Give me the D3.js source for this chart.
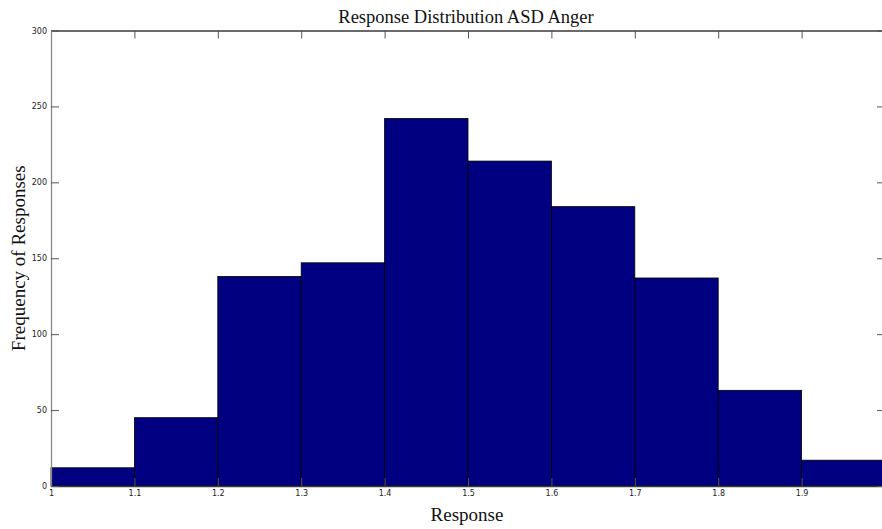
<!DOCTYPE html>
<html>
<head>
<meta charset="utf-8">
<script src="https://cdn.jsdelivr.net/npm/d3@7"></script>
<style>
  html, body { margin: 0; padding: 0; background: #fff; overflow: hidden; }
  svg { display: block; }
</style>
</head>
<body>
<script>
// Histogram bins (left edges) and counts per bin
const binStarts = [1.0, 1.1, 1.2, 1.3, 1.4, 1.5, 1.6, 1.7, 1.8, 1.9];
const binWidth = 0.1;
const counts = [12, 45, 138, 147, 242, 214, 184, 137, 63, 17];
const xTicks = [1, 1.1, 1.2, 1.3, 1.4, 1.5, 1.6, 1.7, 1.8, 1.9, 2];
const xTickLabels = ["1", "1.1", "1.2", "1.3", "1.4", "1.5", "1.6", "1.7", "1.8", "1.9", "2"];
const yTicks = [0, 50, 100, 150, 200, 250, 300];

const W = 882, H = 529;
const plotLeft = 51, plotRight = 885, plotTop = 30.5, plotBottom = 486;

const svg = d3.select("body").append("svg")
  .attr("width", W).attr("height", H);

const x = d3.scaleLinear().domain([1, 2]).range([plotLeft, plotRight]);
const y = d3.scaleLinear().domain([0, 300]).range([plotBottom, plotTop]);

// bars
svg.append("g").selectAll("rect")
  .data(binStarts.map((b, i) => ({ b, c: counts[i] })))
  .join("rect")
  .attr("x", d => x(d.b))
  .attr("y", d => y(d.c))
  .attr("width", d => x(d.b + binWidth) - x(d.b))
  .attr("height", d => y(0) - y(d.c))
  .attr("fill", "#000080")
  .attr("stroke", "#000")
  .attr("stroke-width", 0.8);

const tickLen = 8;

// bottom axis (ticks inward)
const bottomAxis = d3.axisBottom(x).tickValues(xTicks)
  .tickFormat((d, i) => xTickLabels[i])
  .tickSizeInner(-tickLen).tickSizeOuter(0).tickPadding(4);
const gb = svg.append("g").attr("transform", `translate(0,${plotBottom})`).call(bottomAxis);

// top axis (mirror ticks, no labels)
const topAxis = d3.axisTop(x).tickValues(xTicks).tickFormat("")
  .tickSizeInner(-tickLen).tickSizeOuter(0);
const gt = svg.append("g").attr("transform", `translate(0,${plotTop})`).call(topAxis);

// left axis
const leftAxis = d3.axisLeft(y).tickValues(yTicks)
  .tickSizeInner(-tickLen).tickSizeOuter(0).tickPadding(4);
const gl = svg.append("g").attr("transform", `translate(${plotLeft},0)`).call(leftAxis);

// right axis (mirror ticks)
const rightAxis = d3.axisRight(y).tickValues(yTicks).tickFormat("")
  .tickSizeInner(-tickLen).tickSizeOuter(0);
const gr = svg.append("g").attr("transform", `translate(${plotRight},0)`).call(rightAxis);

[gb, gt, gl, gr].forEach(g => {
  g.select(".domain").attr("stroke", "#3a3a3a").attr("stroke-width", 1.3);
  g.selectAll(".tick line").attr("stroke", "#555").attr("stroke-width", 1);
  g.selectAll(".tick text")
    .attr("fill", "#222")
    .style("font-family", "'DejaVu Sans', Arial, sans-serif")
    .style("font-size", "8px");
});
gl.select(".domain").attr("stroke", "#888");

// titles
svg.append("text")
  .attr("x", 466).attr("y", 23)
  .attr("text-anchor", "middle")
  .style("font-family", "'Liberation Serif', 'Times New Roman', serif")
  .style("font-size", "18.5px")
  .attr("fill", "#111")
  .text("Response Distribution ASD Anger");

svg.append("text")
  .attr("x", 467).attr("y", 521)
  .attr("text-anchor", "middle")
  .style("font-family", "'Liberation Serif', 'Times New Roman', serif")
  .style("font-size", "19px")
  .attr("fill", "#111")
  .text("Response");

svg.append("text")
  .attr("transform", `translate(25,${(plotTop + plotBottom) / 2}) rotate(-90)`)
  .attr("text-anchor", "middle")
  .style("font-family", "'Liberation Serif', 'Times New Roman', serif")
  .style("font-size", "19px")
  .attr("fill", "#111")
  .text("Frequency of Responses");
</script>
</body>
</html>
